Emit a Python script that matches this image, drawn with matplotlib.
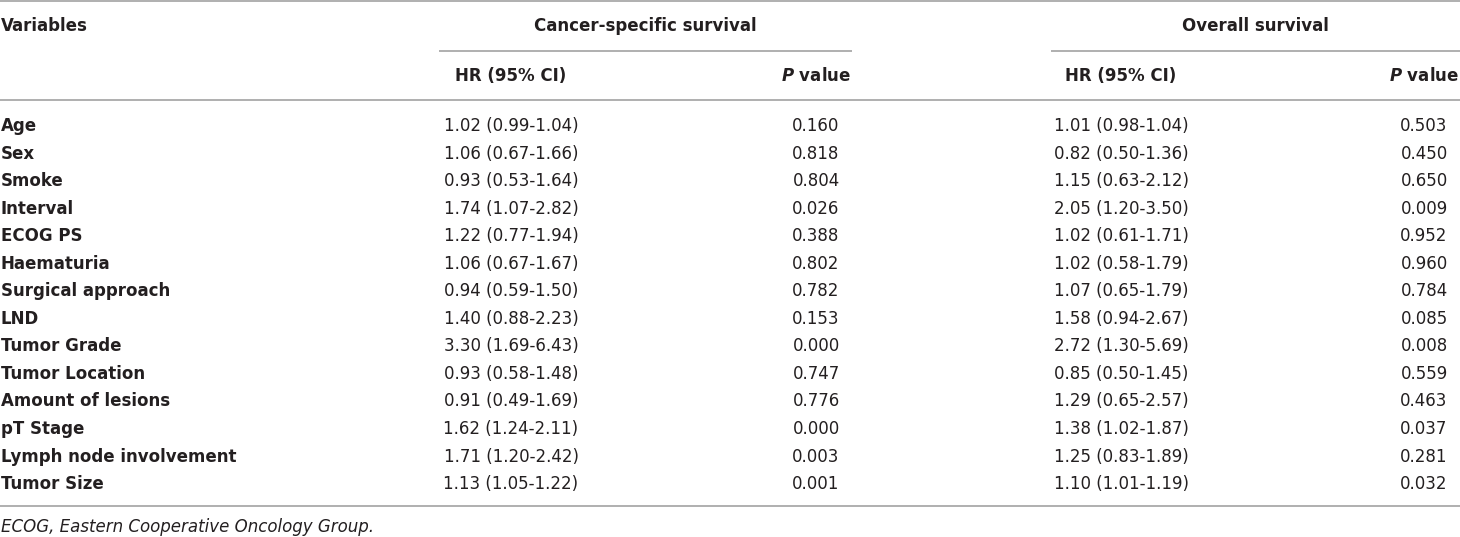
import matplotlib
matplotlib.use("Agg")
import matplotlib.pyplot as plt

plt.rcParams['font.family'] = ['DejaVu Sans']
plt.rcParams['mathtext.fontset'] = 'custom'
plt.rcParams['mathtext.it'] = 'DejaVu Sans:italic:bold'
plt.rcParams['mathtext.rm'] = 'DejaVu Sans:bold'

# table data
variables = ["Age", "Sex", "Smoke", "Interval", "ECOG PS", "Haematuria",
             "Surgical approach", "LND", "Tumor Grade", "Tumor Location",
             "Amount of lesions", "pT Stage", "Lymph node involvement", "Tumor Size"]
css_hr = ["1.02 (0.99-1.04)", "1.06 (0.67-1.66)", "0.93 (0.53-1.64)", "1.74 (1.07-2.82)",
          "1.22 (0.77-1.94)", "1.06 (0.67-1.67)", "0.94 (0.59-1.50)", "1.40 (0.88-2.23)",
          "3.30 (1.69-6.43)", "0.93 (0.58-1.48)", "0.91 (0.49-1.69)", "1.62 (1.24-2.11)",
          "1.71 (1.20-2.42)", "1.13 (1.05-1.22)"]
css_p = ["0.160", "0.818", "0.804", "0.026", "0.388", "0.802", "0.782", "0.153",
         "0.000", "0.747", "0.776", "0.000", "0.003", "0.001"]
os_hr = ["1.01 (0.98-1.04)", "0.82 (0.50-1.36)", "1.15 (0.63-2.12)", "2.05 (1.20-3.50)",
         "1.02 (0.61-1.71)", "1.02 (0.58-1.79)", "1.07 (0.65-1.79)", "1.58 (0.94-2.67)",
         "2.72 (1.30-5.69)", "0.85 (0.50-1.45)", "1.29 (0.65-2.57)", "1.38 (1.02-1.87)",
         "1.25 (0.83-1.89)", "1.10 (1.01-1.19)"]
os_p = ["0.503", "0.450", "0.650", "0.009", "0.952", "0.960", "0.784", "0.085",
        "0.008", "0.559", "0.463", "0.037", "0.281", "0.032"]
groups = ["Cancer-specific survival", "Overall survival"]
footnote = "ECOG, Eastern Cooperative Oncology Group."

W, H = 1460, 537
fig = plt.figure(figsize=(W / 100, H / 100), dpi=100)
ax = fig.add_axes([0, 0, 1, 1])
ax.set_xlim(0, W)
ax.set_ylim(H, 0)
ax.axis('off')

fs = 12
txt = '#231f20'
rule = '#9a9a9a'

# column centres (pixels)
col_x = [511, 816, 1121, 1424]
span = [(439, 852), (1051, 1460)]
row0, row_h = 126, 27.55

# rules
for y in (1, 100, 506):
    ax.plot([0, W], [y, y], color=rule, lw=1.1, solid_capstyle='butt')
for x0, x1 in span:
    ax.plot([x0, x1], [50.5, 50.5], color=rule, lw=1.1, solid_capstyle='butt')

# header
ax.text(1, 26, "Variables", fontsize=fs, fontweight='bold', color=txt, va='center')
for (x0, x1), g in zip(span, groups):
    ax.text((x0 + x1) / 2, 26, g, fontsize=fs, fontweight='bold', color=txt,
            ha='center', va='center')
for i, cx in enumerate(col_x):
    label = "HR (95% CI)" if i % 2 == 0 else "$P$ value"
    ax.text(cx, 76, label, fontsize=fs, fontweight='bold', color=txt,
            ha='center', va='center')

# body
for i, v in enumerate(variables):
    y = row0 + i * row_h
    ax.text(1, y, v, fontsize=fs, fontweight='bold', color=txt, va='center')
    for cx, col in zip(col_x, (css_hr, css_p, os_hr, os_p)):
        ax.text(cx, y, col[i], fontsize=fs, color=txt, ha='center', va='center')

ax.text(1, 527, footnote, fontsize=fs, style='italic', color=txt, va='center')

fig.savefig("out.png", dpi=100)
